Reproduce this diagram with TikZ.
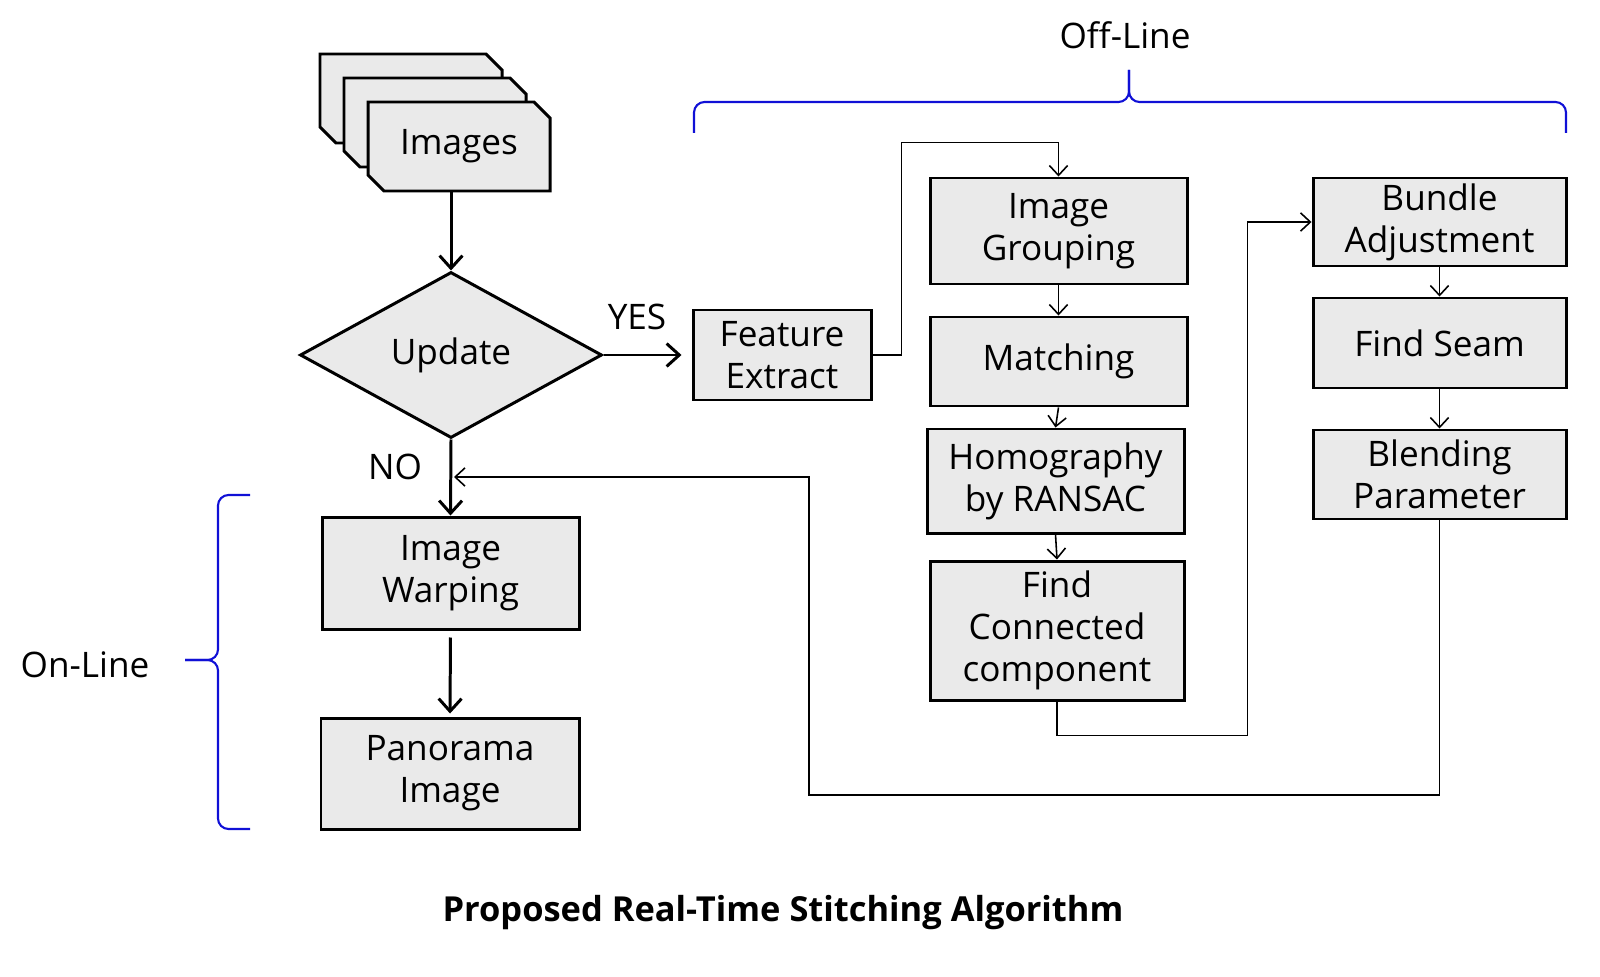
\documentclass[tikz,border=0pt]{standalone}
\usepackage{fontspec}
\setmainfont{Open Sans}
\usepackage{xcolor}
\usepackage{tikz}
\usetikzlibrary{shapes.geometric,arrows.meta,calc}
\definecolor{boxgray}{RGB}{234,234,234}
\definecolor{braceblue}{RGB}{16,16,214}

\begin{document}
\begin{tikzpicture}[
  box/.style={rectangle,draw,line width=0.85pt,fill=boxgray,align=center,inner sep=0pt,font=\fontsize{10}{12}\selectfont},
  card/.style={draw,line width=0.85pt,fill=boxgray},
  thickarrow/.style={line width=0.85pt,-{Straight Barb[length=3.6pt,width=6.5pt]}},
  link/.style={line width=0.45pt,-{Straight Barb[length=2.8pt,width=5.2pt]}},
  curly/.style={draw=braceblue,line width=0.6pt,rounded corners=3pt},
  lbl/.style={font=\fontsize{10}{12}\selectfont}
]
\useasboundingbox (0,0) rectangle (16,-9.76);

% stacked image cards
\foreach \s in {0.48,0.24,0}
  \filldraw[card] ({3.68-\s},{-1.02+\s}) -- ++(1.66,0) -- ++(0.16,-0.16) -- ++(0,-0.73) -- ++(-1.66,0) -- ++(-0.16,0.16) -- cycle;
\node (1) at (4.59,-1.465) [minimum width=1.82cm,minimum height=0.89cm,inner sep=0pt,lbl] {Images};

\node (2) at (4.51,-3.55) [diamond,draw,line width=0.85pt,fill=boxgray,minimum width=3.02cm,minimum height=1.66cm,inner sep=0pt,lbl] {Update};
\node (3) at (7.82,-3.55) [box,minimum width=1.78cm,minimum height=0.90cm] {Feature\\Extract};
\node (4) at (10.585,-2.31) [box,minimum width=2.57cm,minimum height=1.06cm] {Image\\Grouping};
\node (5) at (10.585,-3.615) [box,minimum width=2.57cm,minimum height=0.89cm] {Matching};
\node (6) at (10.555,-4.81) [box,minimum width=2.57cm,minimum height=1.04cm] {Homography\\by RANSAC};
\node (7) at (10.57,-6.305) [box,minimum width=2.54cm,minimum height=1.39cm] {Find\\Connected\\component};
\node (8) at (14.395,-2.22) [box,minimum width=2.53cm,minimum height=0.88cm] {Bundle\\Adjustment};
\node (9) at (14.395,-3.43) [box,minimum width=2.53cm,minimum height=0.90cm] {Find Seam};
\node (10) at (14.395,-4.745) [box,minimum width=2.53cm,minimum height=0.89cm] {Blending\\Parameter};
\node (11) at (4.505,-5.73) [box,minimum width=2.57cm,minimum height=1.12cm] {Image\\Warping};
\node (12) at (4.50,-7.735) [box,minimum width=2.58cm,minimum height=1.11cm] {Panorama\\Image};

\node (13) at (6.37,-3.17) [lbl] {YES};
\node (14) at (3.95,-4.67) [lbl] {NO};
\node (15) at (11.25,-0.35) [lbl] {Off-Line};
\node (16) at (0.85,-6.65) [lbl] {On-Line};
\node (17) at (7.83,-9.13) [font=\bfseries\fontsize{9.8}{12}\selectfont] {Proposed Real-Time Stitching Algorithm};

\coordinate (r1) at (8.09,-7.95);
\coordinate (r2) at (4.54,-4.77);

\draw[thickarrow] (1.south -| 2.north) -- (2.north);
\draw[thickarrow,shorten >=0.1cm] (2.east) -- (3.west);
\draw[thickarrow] (2.south) -- (11.north);
\draw[thickarrow,shorten <=0.07cm,shorten >=0.03cm] (11.south) -- (12.north);
\draw[link] (3.east) -- ++(0.29,0) |- ($(4.north)+(0,0.34)$) -- (4.north);
\draw[link] (4.south) -- (5.north);
\draw[link] (5.south) -- (6.north);
\draw[link] (6.south) -- (7.north);
\draw[link] (7.south) -- ++(0,-0.34) -| ($(8.west)+(-0.64,0)$) -- (8.west);
\draw[link] (8.south) -- (9.north);
\draw[link] (9.south) -- (10.north);
\draw[link] (10.south) |- (r1) |- (r2);

% braces
\draw[curly] (6.94,-1.33) -- (6.94,-1.02) -- (11.29,-1.02) -- (11.29,-0.70);
\draw[curly] (11.29,-0.70) -- (11.29,-1.02) -- (15.66,-1.02) -- (15.66,-1.33);
\draw[curly] (2.50,-4.95) -- (2.18,-4.95) -- (2.18,-6.60) -- (1.85,-6.60);
\draw[curly] (1.85,-6.60) -- (2.18,-6.60) -- (2.18,-8.29) -- (2.50,-8.29);
\end{tikzpicture}
\end{document}
